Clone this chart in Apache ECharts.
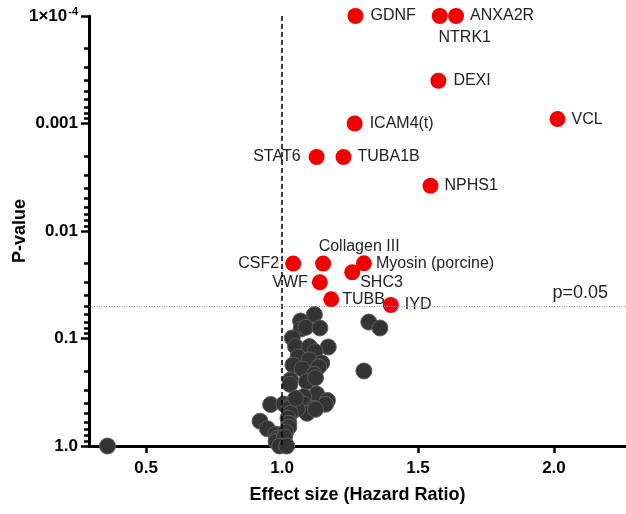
<!DOCTYPE html>
<html>
<head>
<meta charset="utf-8">
<script src="https://cdn.jsdelivr.net/npm/echarts@6/dist/echarts.min.js"></script>
<style>
  html, body { margin: 0; padding: 0; background: #fff; }
  #chart { width: 626px; height: 514px; }
</style>
</head>
<body>
<div id="chart"></div>
<script>
// ---- Data ----
const redNames = ['GDNF', 'NTRK1', 'ANXA2R', 'DEXI', 'VCL', 'ICAM4(t)', 'STAT6', 'TUBA1B', 'NPHS1',
  'CSF2', 'Collagen III', 'Myosin (porcine)', 'SHC3', 'VWF', 'TUBB', 'IYD'];
const redX = [1.27, 1.58, 1.64, 1.575, 2.013, 1.267, 1.127, 1.226, 1.546,
  1.041, 1.151, 1.301, 1.258, 1.139, 1.181, 1.40];
const redP = [1e-4, 1e-4, 1e-4, 4.0e-4, 9.1e-4, 1.0e-3, 2.05e-3, 2.05e-3, 3.8e-3,
  0.0201, 0.0201, 0.020, 0.0242, 0.030, 0.0432, 0.0488];

const grayX = [1.119, 1.068, 1.070, 1.0875, 1.139, 1.319, 1.360, 1.0375, 1.0496, 1.101,
  1.170, 1.121, 1.059, 1.100, 1.146, 1.040, 1.074, 1.135, 1.301, 1.119,
  1.031, 1.090, 1.029, 1.127, 1.080, 1.054, 1.167, 1.160, 0.958, 1.0066,
  1.031, 1.080, 1.117, 1.092, 1.056, 1.025, 1.123, 1.031, 1.022, 1.025,
  1.025, 0.919, 0.946, 0.976, 0.982, 1.0007, 0.978, 1.0066, 1.050, 1.123,
  1.013, 1.009, 0.991, 1.017, 0.358];
const grayP = [0.0598, 0.0687, 0.0816, 0.0787, 0.0798, 0.0703, 0.0798, 0.0989, 0.1186, 0.119,
  0.120, 0.1327, 0.1486, 0.158, 0.169, 0.1766, 0.192, 0.183, 0.2005, 0.216,
  0.243, 0.252, 0.267, 0.328, 0.347, 0.366, 0.377, 0.409, 0.411, 0.407,
  0.416, 0.407, 0.446, 0.496, 0.453, 0.446, 0.456, 0.496, 0.552, 0.615,
  0.666, 0.588, 0.692, 0.776, 0.848, 0.944, 0.912, 0.879, 0.36, 0.232,
  0.741, 0.824, 1.0, 1.0, 1.0];

const xTicks = [0.5, 1.0, 1.5, 2.0];
const yTicks = [1e-4, 1e-3, 1e-2, 0.1, 1.0];
const yTickLabels = ['1×10-4', '0.001', '0.01', '0.1', '1.0'];
const yMinorTicks = [2e-4,3e-4,4e-4,5e-4,6e-4,7e-4,8e-4,9e-4,
  2e-3,3e-3,4e-3,5e-3,6e-3,7e-3,8e-3,9e-3,
  0.02,0.03,0.04,0.05,0.06,0.07,0.08,0.09,
  0.2,0.3,0.4,0.5,0.6,0.7,0.8,0.9];
const thresholdX = 1.0;
const thresholdP = 0.05;

// ---- Label placement (styles) ----
const labelPlace = {
  'GDNF': {position: 'right', distance: 7},
  'NTRK1': {position: 'bottom', distance: 6, offset: [25, 0]},
  'ANXA2R': {position: 'right', distance: 6},
  'DEXI': {position: 'right', distance: 7},
  'VCL': {position: 'right', distance: 6},
  'ICAM4(t)': {position: 'right', distance: 7},
  'STAT6': {position: 'left', distance: 8},
  'TUBA1B': {position: 'right', distance: 6},
  'NPHS1': {position: 'right', distance: 6},
  'CSF2': {position: 'left', distance: 6},
  'Collagen III': {position: 'top', distance: 1, offset: [36, 0]},
  'Myosin (porcine)': {position: 'right', distance: 4},
  'SHC3': {position: 'right', distance: 0, offset: [0, 10]},
  'VWF': {position: 'left', distance: 4},
  'TUBB': {position: 'right', distance: 3},
  'IYD': {position: 'right', distance: 6}
};

const FONT = 'Liberation Sans, Arial, Helvetica, sans-serif';

const redData = redNames.map((n, i) => ({
  name: n,
  value: [redX[i], redP[i]],
  label: Object.assign({show: true, formatter: n}, labelPlace[n])
}));
const grayData = grayX.map((x, i) => [x, grayP[i]]);

const chart = echarts.init(document.getElementById('chart'), null, {renderer: 'canvas'});
chart.setOption({
  animation: false,
  backgroundColor: '#fff',
  grid: {left: 89, right: 0, top: 16, bottom: 68, containLabel: false, outerBoundsMode: 'none'},
  xAxis: {
    type: 'value', min: 0.29, max: 2.265,
    name: 'Effect size (Hazard Ratio)', nameLocation: 'middle', nameGap: 40, nameMoveOverlap: false,
    nameTextStyle: {fontFamily: FONT, fontWeight: 'bold', fontSize: 18, color: '#000'},
    axisLine: {show: true, onZero: false, lineStyle: {color: '#000', width: 3}},
    axisTick: {show: true, length: 7, lineStyle: {color: '#000', width: 2.5}, customValues: xTicks},
    axisLabel: {customValues: xTicks, formatter: v => v.toFixed(1), margin: 14,
      fontFamily: FONT, fontWeight: 'bold', fontSize: 17, color: '#000'},
    splitLine: {show: false}
  },
  yAxis: [{
    type: 'log', logBase: 10, min: 1e-4, max: 1, inverse: true,
    name: 'P-value', nameLocation: 'middle', nameGap: 60, nameRotate: 90, nameMoveOverlap: false,
    nameTextStyle: {fontFamily: FONT, fontWeight: 'bold', fontSize: 18, color: '#000'},
    axisLine: {show: true, onZero: false, lineStyle: {color: '#000', width: 3}},
    axisTick: {show: true, length: 8, lineStyle: {color: '#000', width: 2.5}, customValues: yTicks},
    axisLabel: {
      customValues: yTicks, margin: 11,
      formatter: v => {
        const i = yTicks.findIndex(t => Math.abs(Math.log10(t) - Math.log10(v)) < 1e-6);
        if (i === 0) return '{b|1×10}{s|-4}';
        return '{b|' + (i >= 0 ? yTickLabels[i] : '') + '}';
      },
      rich: {
        b: {fontFamily: FONT, fontWeight: 'bold', fontSize: 17, color: '#000'},
        s: {fontFamily: FONT, fontWeight: 'bold', fontSize: 11, color: '#000', verticalAlign: 'top', padding: [0, 0, 9, 1]}
      }
    },
    splitLine: {show: false}
  }, {
    type: 'log', logBase: 10, min: 1e-4, max: 1, inverse: true, position: 'left',
    axisLine: {show: false},
    axisTick: {show: true, length: 5, lineStyle: {color: '#000', width: 2.5}, customValues: yMinorTicks},
    axisLabel: {show: false},
    splitLine: {show: false}
  }],
  series: [{
    type: 'scatter', z: 1, data: [],
    markLine: {
      silent: true, symbol: ['none', 'none'], animation: false,
      data: [
        {xAxis: thresholdX, lineStyle: {color: '#000', type: [5, 3], width: 1.5}, label: {show: false}},
        {yAxis: thresholdP, lineStyle: {color: '#8c8ce0', type: [1, 1.5], width: 1},
          label: {show: true, formatter: 'p=0.05', position: 'insideEndTop', distance: [18, 4],
            fontFamily: FONT, fontSize: 18, color: '#222'}}
      ]
    }
  }, {
    type: 'scatter', z: 3, clip: false, symbolSize: 16,
    itemStyle: {color: '#343434', borderColor: '#5e5e5e', borderWidth: 1, opacity: 1},
    data: grayData
  }, {
    type: 'scatter', z: 4, clip: false, symbolSize: 16,
    itemStyle: {color: '#f20000', opacity: 1},
    label: {show: true, fontFamily: FONT, fontSize: 16, color: '#222'},
    data: redData
  }]
});
</script>
</body>
</html>
